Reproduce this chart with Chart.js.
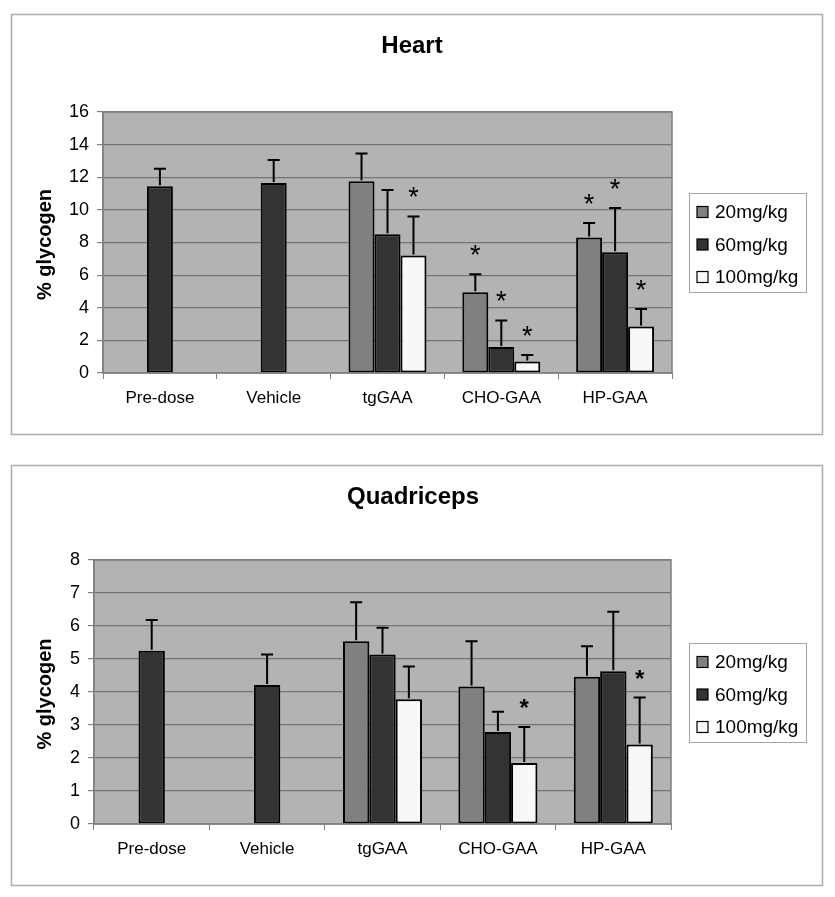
<!DOCTYPE html>
<html><head><meta charset="utf-8">
<script src="https://cdn.jsdelivr.net/npm/chart.js@4.4.1/dist/chart.umd.min.js"></script>
<style>
html,body{margin:0;padding:0;background:#fff;}
canvas{position:absolute;left:0;display:block;}
#c1{top:0}
#c2{top:450px}
</style></head><body>
<canvas id="c1" width="835" height="450"></canvas>
<canvas id="c2" width="835" height="447"></canvas>
<script>
// ---- data ----
const categories = ['Pre-dose', 'Vehicle', 'tgGAA', 'CHO-GAA', 'HP-GAA'];
const doseLabels = ['20mg/kg', '60mg/kg', '100mg/kg'];

const heart20    = [null, null, 11.75, 4.95, 8.3];
const heart60    = [11.45, 11.65, 8.5, 1.6, 7.4];
const heart100   = [null, null, 7.2, 0.7, 2.85];
const heart20Err = [null, null, 1.7, 1.1, 0.9];
const heart60Err = [1.07, 1.4, 2.72, 1.62, 2.72];
const heart100Err= [null, null, 2.4, 0.4, 1.08];
const heart20Sig = [false, false, false, true, true];
const heart60Sig = [false, false, false, true, true];
const heart100Sig= [false, false, true, true, true];
const heartTicks = [0, 2, 4, 6, 8, 10, 12, 14, 16];

const quad20    = [null, null, 5.54, 4.17, 4.46];
const quad60    = [5.25, 4.21, 5.14, 2.79, 4.63];
const quad100   = [null, null, 3.78, 1.85, 2.41];
const quad20Err = [null, null, 1.18, 1.37, 0.93];
const quad60Err = [0.93, 0.93, 0.81, 0.61, 1.8];
const quad100Err= [null, null, 0.99, 1.09, 1.42];
const quad20Sig = [false, false, false, false, false];
const quad60Sig = [false, false, false, false, false];
const quad100Sig= [false, false, false, true, true];
const quadTicks = [0, 1, 2, 3, 4, 5, 6, 7, 8];

// ---- styles ----
const FONT = "'Liberation Sans', Arial, Helvetica, sans-serif";
const doseColors = ['#808080', '#333333', '#f8f8f8'];

function buildChart(id, o) {
  const datasets = o.series.map((vals, i) => ({
    label: doseLabels[i],
    data: vals,
    backgroundColor: doseColors[i],
    borderColor: '#000',
    borderWidth: 2,
    borderSkipped: false,
    categoryPercentage: 0.685,
    barPercentage: 1.0,
    errs: o.errors[i],
    sig: o.sig[i]
  }));

  const decor = {
    id: 'decor',
    beforeDraw(chart) {
      const c = chart.ctx, a = chart.chartArea;
      c.save();
      c.fillStyle = '#fff';
      c.fillRect(0, 0, chart.width, chart.height);
      c.strokeStyle = '#ababab';
      c.lineWidth = 1.5;
      c.strokeRect(o.box.x, o.box.y, o.box.w, o.box.h);
      c.fillStyle = '#b3b3b3';
      c.fillRect(a.left, a.top, a.right - a.left, a.bottom - a.top);
      c.restore();
    },
    afterDatasetsDraw(chart) {
      const c = chart.ctx, ys = chart.scales.y;
      c.save();
      chart.data.datasets.forEach((ds, i) => {
        const meta = chart.getDatasetMeta(i);
        meta.data.forEach((bar, j) => {
          const v = ds.data[j], e = ds.errs[j];
          if (v == null) return;
          const yBar = ys.getPixelForValue(v);
          const yTop = ys.getPixelForValue(v + e);
          c.strokeStyle = '#000';
          c.lineWidth = 2;
          c.beginPath();
          c.moveTo(bar.x, yBar - 1);
          c.lineTo(bar.x, yTop);
          c.moveTo(bar.x - 6, yTop);
          c.lineTo(bar.x + 6, yTop);
          c.stroke();
          if (ds.sig[j]) {
            c.font = o.starFont;
            c.fillStyle = '#000';
            c.textAlign = 'center';
            c.textBaseline = 'alphabetic';
            const m = c.measureText('*');
            const cy = yTop - o.starGap;
            const base = cy + (m.actualBoundingBoxAscent - m.actualBoundingBoxDescent) / 2;
            c.fillText('*', bar.x, base);
          }
        });
      });
      c.restore();
    },
    afterDraw(chart) {
      const c = chart.ctx, a = chart.chartArea;
      c.save();
      // plot border
      c.strokeStyle = '#808080';
      c.lineWidth = 1.5;
      c.strokeRect(a.left, a.top, a.right - a.left, a.bottom - a.top);
      // title
      c.fillStyle = '#000';
      c.font = 'bold 24px ' + FONT;
      c.textAlign = 'center';
      c.textBaseline = 'middle';
      c.fillText(o.title, o.titleX, o.titleY);
      // y title
      c.save();
      c.translate(45, (a.top + a.bottom) / 2 + 2);
      c.rotate(-Math.PI / 2);
      c.font = 'bold 20px ' + FONT;
      c.fillText('% glycogen', 0, 0);
      c.restore();
      // legend
      const L = o.legend;
      c.fillStyle = '#fff';
      c.fillRect(L.x, L.y, L.w, L.h);
      c.strokeStyle = '#a5a5a5';
      c.lineWidth = 1;
      c.strokeRect(L.x + 0.5, L.y + 0.5, L.w, L.h);
      chart.data.datasets.forEach((ds, i) => {
        const ry = L.y + 19 + i * 32.5;
        c.fillStyle = ds.backgroundColor;
        c.fillRect(L.x + 8, ry - 5.5, 11, 11);
        c.strokeStyle = '#000';
        c.lineWidth = 1.2;
        c.strokeRect(L.x + 8, ry - 5.5, 11, 11);
        c.fillStyle = '#000';
        c.font = '19px ' + FONT;
        c.textAlign = 'left';
        c.textBaseline = 'middle';
        c.fillText(ds.label, L.x + 26, ry + 1);
      });
      c.restore();
    }
  };

  return new Chart(document.getElementById(id), {
    type: 'bar',
    data: { labels: categories, datasets },
    plugins: [decor],
    options: {
      responsive: false,
      animation: false,
      events: [],
      layout: { padding: { top: o.padTop, right: o.padRight, left: 0, bottom: 0 } },
      plugins: { legend: { display: false }, title: { display: false }, tooltip: { enabled: false } },
      scales: {
        x: {
          grid: { drawOnChartArea: false, drawTicks: true, tickLength: 6, color: '#808080', offset: true },
          border: { color: '#808080', width: 1.5 },
          ticks: { color: '#000', font: { family: FONT, size: 17 }, padding: 9, maxRotation: 0, autoSkip: false },
          afterFit(s) { s.height = o.xh; }
        },
        y: {
          min: 0, max: o.ticks[o.ticks.length - 1],
          afterBuildTicks(s) { s.ticks = o.ticks.map(v => ({ value: v })); },
          ticks: { color: '#000', font: { family: FONT, size: 18 }, padding: 8 },
          grid: { color: '#737373', lineWidth: 1.2, tickLength: 6, tickColor: '#808080' },
          border: { color: '#808080', width: 1.5 },
          afterFit(s) { s.width = o.yw; }
        }
      }
    }
  });
}

buildChart('c1', {
  title: 'Heart', titleX: 412, titleY: 46,
  series: [heart20, heart60, heart100],
  errors: [heart20Err, heart60Err, heart100Err],
  sig: [heart20Sig, heart60Sig, heart100Sig],
  ticks: heartTicks,
  starFont: '27px ' + FONT, starGap: 24,
  box: { x: 11.5, y: 14.5, w: 811, h: 420 },
  legend: { x: 689, y: 193, w: 117, h: 99 },
  padTop: 112, padRight: 163, yw: 103, xh: 77
});

buildChart('c2', {
  title: 'Quadriceps', titleX: 413, titleY: 47,
  series: [quad20, quad60, quad100],
  errors: [quad20Err, quad60Err, quad100Err],
  sig: [quad20Sig, quad60Sig, quad100Sig],
  ticks: quadTicks,
  starFont: 'bold 24px ' + FONT, starGap: 23,
  box: { x: 11.5, y: 15.5, w: 811, h: 420 },
  legend: { x: 689, y: 193, w: 117, h: 99 },
  padTop: 110, padRight: 164, yw: 94, xh: 73
});
</script>
</body></html>
